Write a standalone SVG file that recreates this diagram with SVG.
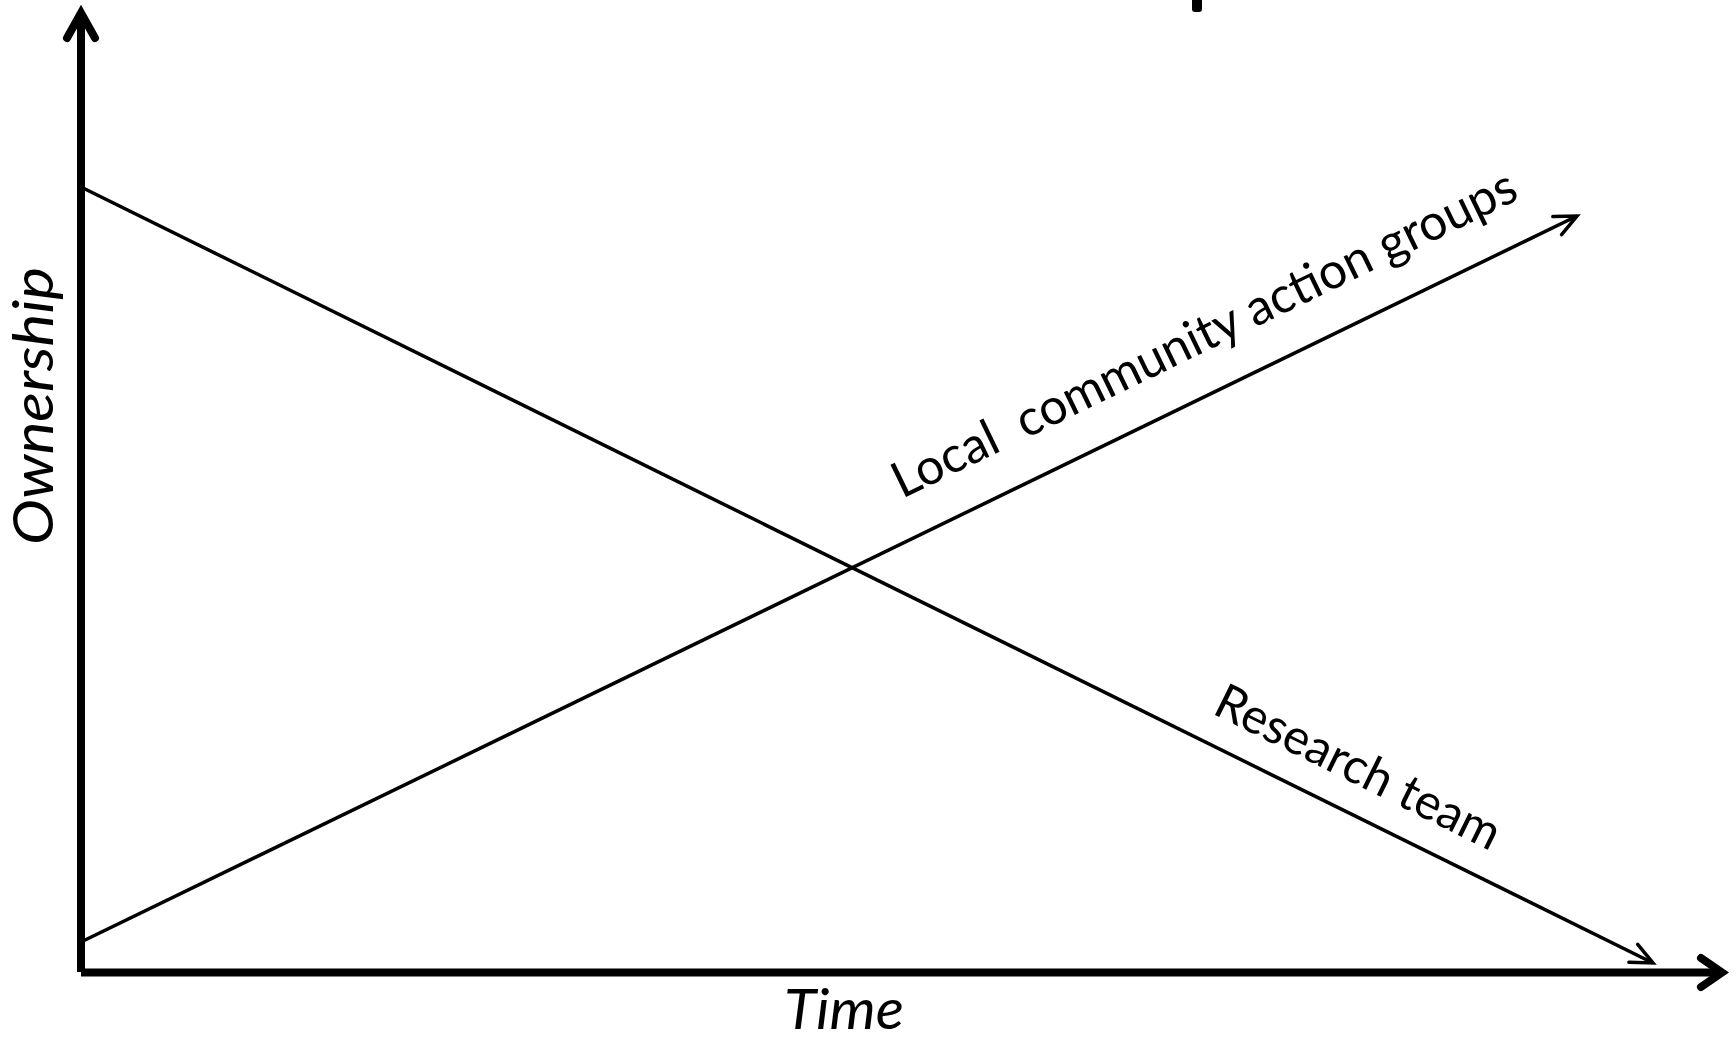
<svg xmlns="http://www.w3.org/2000/svg" width="1736" height="1040" viewBox="0 0 1736 1040">
<style>
.axis{stroke:#000;stroke-width:8;fill:none;stroke-linecap:round;stroke-linejoin:miter}
.series{stroke:#000;stroke-width:3.5;fill:none}
.lbl{font-family:Lato,"Open Sans","Liberation Sans",sans-serif;fill:#000}
.it{font-style:italic}
</style>
<defs>
<marker id="open" markerUnits="userSpaceOnUse" markerWidth="40" markerHeight="40" refX="0" refY="0" orient="auto" overflow="visible" viewBox="-30 -20 40 40">
<path d="M-22,-10 L0,0 L-22,10" fill="none" stroke="#000" stroke-width="3.5" stroke-linecap="round" stroke-linejoin="miter"/>
</marker>
</defs>
<rect width="1736" height="1040" fill="#fff"/>
<g id="title-fragment">
<rect x="1192" y="-6" width="10" height="18" rx="3" fill="#000"/>
</g>
<g id="axes">
<line class="axis" x1="81" y1="13" x2="81" y2="972" style="stroke-linecap:butt"/>
<line class="axis" x1="81" y1="972.5" x2="1722" y2="972.5" style="stroke-linecap:butt"/>
<path class="axis" d="M67,38 L81,13 L95,38"/>
<path class="axis" d="M1701,958 L1722,972.5 L1701,987"/>
</g>
<g id="connectors">
<line id="research-line" class="series" x1="83" y1="188" x2="1653" y2="963" marker-end="url(#open)"/>
<line id="local-line" class="series" x1="83" y1="941" x2="1577" y2="216" marker-end="url(#open)"/>
</g>
<g id="y-label">
<text class="lbl it" x="53" y="406" font-size="57" text-anchor="middle" textLength="278" lengthAdjust="spacingAndGlyphs" transform="rotate(-90 53 406)">Ownership</text>
</g>
<g id="x-label">
<text class="lbl it" x="784" y="1029" font-size="56" textLength="120" lengthAdjust="spacingAndGlyphs">Time</text>
</g>
<g id="local-label">
<text class="lbl" x="902" y="499" font-size="50" textLength="688" lengthAdjust="spacingAndGlyphs" transform="rotate(-25.9 902 499)" xml:space="preserve">Local  community action groups</text>
</g>
<g id="research-label">
<text class="lbl" x="1211" y="713" font-size="49" textLength="312" lengthAdjust="spacingAndGlyphs" transform="rotate(26.3 1211 713)">Research team</text>
</g>
</svg>
